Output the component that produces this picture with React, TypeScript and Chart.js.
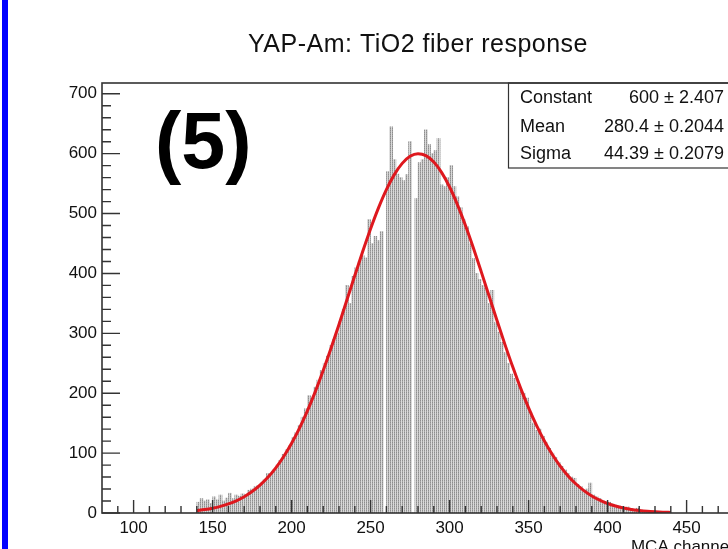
import React, { useEffect, useRef } from "react";
import { Chart, registerables } from "chart.js";

Chart.register(...registerables);

// ---------- data ----------
const titleText = "YAP-Am: TiO2 fiber response";
const xAxisTitle = "MCA channel";
const panelLabel = "(5)";

const binStart = 140;
const binWidth = 2;
// counts per 2-channel bin, starting at channel 140
const counts = [
  18, 24, 20, 22, 16, 27, 22, 30, 20, 25,
  33, 24, 30, 28, 32, 30, 38, 40, 44, 46,
  50, 56, 66, 64, 72, 80, 88, 98, 106, 112,
  126, 134, 146, 160, 174, 196, 190, 210, 222, 238,
  250, 262, 280, 290, 300, 320, 340, 380, 350, 395,
  410, 420, 430, 426, 490, 450, 462, 455, 470, 0,
  570, 645, 590, 566, 560, 555, 565, 620, 0, 525,
  585, 590, 640, 615, 600, 605, 625, 548, 545, 560,
  580, 545, 528, 510, 490, 478, 450, 425, 400, 390,
  380, 375, 350, 372, 318, 302, 285, 268, 250, 232,
  225, 215, 205, 200, 192, 168, 150, 138, 140, 128,
  118, 108, 100, 93, 84, 78, 72, 66, 60, 58,
  48, 44, 38, 40, 50, 30, 27, 24, 20, 18,
  18, 15, 13, 12, 10, 9, 10, 7, 6, 8,
  5, 4, 4, 3, 3, 3, 2, 2, 2, 1,
];

// red fit curve
const fitX = [
  140, 145, 150, 155, 160, 165, 170, 175, 180, 185, 190, 195, 200, 205, 210,
  215, 220, 225, 230, 235, 240, 245, 250, 255, 260, 265, 270, 275, 280, 285,
  290, 295, 300, 305, 310, 315, 320, 325, 330, 335, 340, 345, 350, 355, 360,
  365, 370, 375, 380, 385, 390, 395, 400, 405, 410, 415, 420, 425, 430, 435, 440,
];
const fitY = [
  4.0, 5.7, 8.0, 11.1, 15.2, 20.4, 27.2, 35.8, 46.5, 59.6, 75.4, 94.3, 116.4, 141.8, 170.6,
  202.7, 237.8, 275.4, 314.9, 355.6, 396.5, 436.6, 474.6, 509.4, 539.9, 565.0, 583.8, 595.6, 600.0, 596.8,
  586.1, 568.4, 544.3, 514.6, 480.4, 442.8, 403.0, 362.2, 321.4, 281.6, 243.6, 208.1, 175.5, 146.2, 120.2,
  97.6, 78.3, 61.9, 48.4, 37.4, 28.5, 21.4, 15.9, 11.7, 8.5, 6.0, 4.3, 3.0, 2.1, 1.4, 0.9,
];

const xMin = 80;
const xMax = 480;
const yMin = 0;
const yMax = 718;
const xTickValues = [100, 150, 200, 250, 300, 350, 400, 450];
const xTickLabels = ["100", "150", "200", "250", "300", "350", "400", "450"];
const yTickValues = [0, 100, 200, 300, 400, 500, 600, 700];
const yTickLabels = ["0", "100", "200", "300", "400", "500", "600", "700"];

const statNames = ["Constant", "Mean", "Sigma"];
const statValues = ["600 \u00b1 2.407", "280.4 \u00b1 0.2044", "44.39 \u00b1 0.2079"];

const FONT = "'Liberation Sans', Arial, Helvetica, sans-serif";
const AXIS_COLOR = "#333333";
const TEXT_COLOR = "#111111";

const rootStylePlugin = {
  id: "rootStyle",
  afterDatasetsDraw(chart: any) {
    const { ctx, chartArea: a } = chart;
    const x = chart.scales.x;
    const y = chart.scales.y;
    ctx.save();

    // stats box
    const bx = 508.5;
    const by = a.top;
    const bw = 260;
    const bh = 85;
    ctx.fillStyle = "#ffffff";
    ctx.fillRect(bx, by, bw, bh);
    ctx.strokeStyle = AXIS_COLOR;
    ctx.lineWidth = 1.2;
    ctx.strokeRect(bx, by, bw, bh);
    ctx.fillStyle = TEXT_COLOR;
    ctx.font = `18px ${FONT}`;
    ctx.textBaseline = "alphabetic";
    const rowBase = [103, 132, 159];
    statNames.forEach((n, i) => {
      ctx.textAlign = "left";
      ctx.fillText(n, 520, rowBase[i]);
      ctx.textAlign = "right";
      ctx.fillText(statValues[i], 724, rowBase[i]);
    });

    // frame
    ctx.strokeStyle = AXIS_COLOR;
    ctx.lineWidth = 1.6;
    ctx.strokeRect(a.left, a.top, a.right - a.left, a.bottom - a.top);

    // y ticks (inside)
    ctx.lineWidth = 1.4;
    ctx.beginPath();
    for (let v = yMin; v <= yMax; v += 20) {
      const py = y.getPixelForValue(v);
      const len = v % 100 === 0 ? 18 : 9;
      ctx.moveTo(a.left, py);
      ctx.lineTo(a.left + len, py);
    }
    // x ticks (inside)
    for (let v = xMin + 10; v < xMax; v += 10) {
      const px = x.getPixelForValue(v);
      const len = v % 50 === 0 ? 13 : 7;
      ctx.moveTo(px, a.bottom);
      ctx.lineTo(px, a.bottom - len);
    }
    ctx.stroke();

    // tick labels
    ctx.fillStyle = TEXT_COLOR;
    ctx.font = `17px ${FONT}`;
    ctx.textAlign = "right";
    ctx.textBaseline = "middle";
    yTickValues.forEach((v, i) => {
      ctx.fillText(yTickLabels[i], a.left - 5, y.getPixelForValue(v));
    });
    ctx.textAlign = "center";
    ctx.textBaseline = "top";
    xTickValues.forEach((v, i) => {
      ctx.fillText(xTickLabels[i], x.getPixelForValue(v), a.bottom + 7);
    });

    // axis title
    ctx.textAlign = "right";
    ctx.textBaseline = "alphabetic";
    ctx.fillText(xAxisTitle, a.right - 1, 552);

    // title
    ctx.font = `25px ${FONT}`;
    ctx.textAlign = "center";
    (ctx as any).letterSpacing = "0.5px";
    ctx.fillText(titleText, 418, 52);
    (ctx as any).letterSpacing = "0px";

    // panel label
    ctx.font = `bold 79px ${FONT}`;
    ctx.textAlign = "left";
    ctx.fillStyle = "#000000";
    ctx.fillText(panelLabel, 155, 168);

    ctx.restore();
  },
};

function makeFillPattern(): CanvasPattern | string {
  const tile = document.createElement("canvas");
  tile.width = 2;
  tile.height = 2;
  const t = tile.getContext("2d");
  if (!t) return "#b3b3b3";
  t.fillStyle = "#8e8e8e";
  t.fillRect(0, 0, 1, 2);
  t.fillStyle = "#d9d9d9";
  t.fillRect(1, 0, 1, 2);
  t.fillStyle = "#a8a8a8";
  t.fillRect(0, 1, 1, 1);
  const p = t.createPattern(tile, "repeat");
  return p || "#b3b3b3";
}

export default function App() {
  const canvasRef = useRef<HTMLCanvasElement | null>(null);

  useEffect(() => {
    const canvas = canvasRef.current;
    if (!canvas) return;
    const barData = counts.map((c, i) => ({ x: binStart + binWidth * i + binWidth / 2, y: c }));
    const lineData = fitX.map((v, i) => ({ x: v, y: fitY[i] }));

    const chart = new Chart(canvas, {
      type: "bar",
      data: {
        datasets: [
          {
            type: "line",
            data: lineData,
            borderColor: "rgb(222, 24, 30)",
            borderWidth: 3,
            pointRadius: 0,
            cubicInterpolationMode: "monotone",
            fill: false,
            order: 0,
          } as any,
          {
            type: "bar",
            data: barData,
            backgroundColor: makeFillPattern(),
            borderWidth: 0,
            barPercentage: 1,
            categoryPercentage: 1,
            order: 1,
          } as any,
        ],
      },
      options: {
        responsive: false,
        animation: false,
        devicePixelRatio: 1,
        layout: { padding: { left: 102, top: 83, right: 780 - 734, bottom: 570 - 513 } },
        plugins: {
          legend: { display: false },
          tooltip: { enabled: false },
          title: { display: false },
        },
        scales: {
          x: { type: "linear", min: xMin, max: xMax, offset: false, display: false },
          y: { type: "linear", min: yMin, max: yMax, display: false },
        },
      } as any,
      plugins: [rootStylePlugin],
    });
    return () => chart.destroy();
  }, []);

  return (
    <div
      style={{
        position: "fixed",
        left: 0,
        top: 0,
        width: 728,
        height: 549,
        overflow: "hidden",
        background: "#ffffff",
      }}
    >
      <canvas
        ref={canvasRef}
        width={780}
        height={570}
        style={{ position: "absolute", left: 0, top: 0, width: 780, height: 570 }}
      />
      <div
        style={{
          position: "absolute",
          left: 2,
          top: 0,
          width: 6,
          height: 549,
          background: "#0000ff",
        }}
      />
    </div>
  );
}
